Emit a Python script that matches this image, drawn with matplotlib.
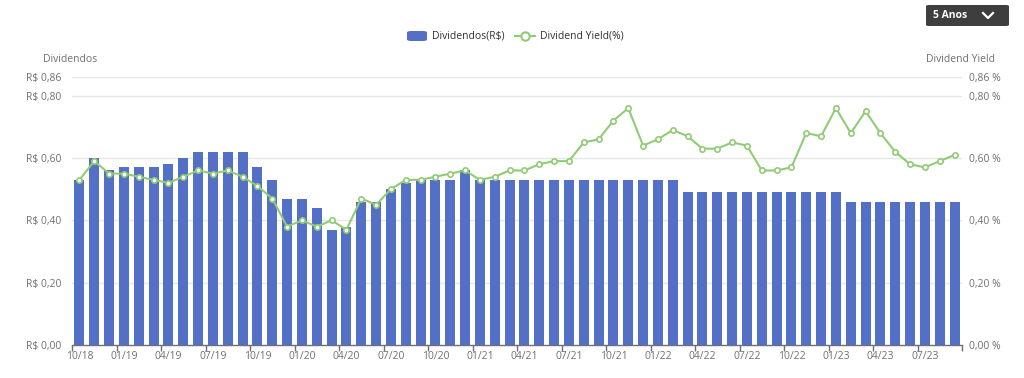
import matplotlib
matplotlib.use("Agg")
import matplotlib.pyplot as plt
from matplotlib.patches import FancyBboxPatch
from matplotlib.lines import Line2D
import numpy as np

months = [
    "10/18", "11/18", "12/18", "01/19", "02/19", "03/19", "04/19", "05/19", "06/19", "07/19",
    "08/19", "09/19", "10/19", "11/19", "12/19", "01/20", "02/20", "03/20", "04/20", "05/20",
    "06/20", "07/20", "08/20", "09/20", "10/20", "11/20", "12/20", "01/21", "02/21", "03/21",
    "04/21", "05/21", "06/21", "07/21", "08/21", "09/21", "10/21", "11/21", "12/21", "01/22",
    "02/22", "03/22", "04/22", "05/22", "06/22", "07/22", "08/22", "09/22", "10/22", "11/22",
    "12/22", "01/23", "02/23", "03/23", "04/23", "05/23", "06/23", "07/23", "08/23", "09/23",
]

dividends = [
    0.53, 0.60, 0.56, 0.57, 0.57, 0.57, 0.58, 0.60, 0.62, 0.62,
    0.62, 0.62, 0.57, 0.53, 0.47, 0.47, 0.44, 0.37, 0.38, 0.46,
    0.46, 0.50, 0.52, 0.53, 0.53, 0.53, 0.56, 0.53, 0.53, 0.53,
    0.53, 0.53, 0.53, 0.53, 0.53, 0.53, 0.53, 0.53, 0.53, 0.53,
    0.53, 0.49, 0.49, 0.49, 0.49, 0.49, 0.49, 0.49, 0.49, 0.49,
    0.49, 0.49, 0.46, 0.46, 0.46, 0.46, 0.46, 0.46, 0.46, 0.46,
]

dividend_yield = [
    0.53, 0.59, 0.55, 0.55, 0.54, 0.53, 0.52, 0.54, 0.56, 0.55,
    0.56, 0.54, 0.51, 0.47, 0.38, 0.40, 0.38, 0.40, 0.37, 0.47,
    0.45, 0.50, 0.53, 0.53, 0.54, 0.55, 0.56, 0.53, 0.54, 0.56,
    0.56, 0.58, 0.59, 0.59, 0.65, 0.66, 0.72, 0.76, 0.64, 0.66,
    0.69, 0.67, 0.63, 0.63, 0.65, 0.64, 0.56, 0.56, 0.57, 0.68,
    0.67, 0.76, 0.68, 0.75, 0.68, 0.62, 0.58, 0.57, 0.59, 0.61,
]

y_ticks = [0.0, 0.20, 0.40, 0.60, 0.80, 0.86]
y_max = 0.86

BAR_COLOR = "#5470C6"
LINE_COLOR = "#91CC75"
TEXT_COLOR = "#6E7079"
GRID_COLOR = "#E6E6E6"

plt.rcParams["font.family"] = ["Open Sans", "DejaVu Sans"]

fig = plt.figure(figsize=(10.24, 3.78), dpi=100)
fig.patch.set_facecolor("white")
ax = fig.add_axes([72 / 1024, 1 - 345 / 378, 890 / 1024, (345 - 77) / 378])

x = np.arange(len(months))
ax.bar(x, dividends, width=0.68, color=BAR_COLOR, zorder=2)
ax.set_xlim(-0.5, len(months) - 0.5)
ax.set_ylim(0, y_max)

for t in y_ticks[1:]:
    ax.axhline(t, color=GRID_COLOR, lw=1, zorder=0)

ax.set_yticks(y_ticks)
ax.set_yticklabels(["R$ " + f"{t:.2f}".replace(".", ",") for t in y_ticks],
                   fontsize=7.5, color=TEXT_COLOR)
ax.tick_params(axis="y", length=0, pad=8)

label_idx = x[::3]
ax.set_xticks(label_idx)
ax.set_xticklabels([months[i] for i in label_idx], fontsize=7.5, color=TEXT_COLOR)
ax.set_xticks(list(label_idx - 0.5) + [len(months) - 0.5], minor=True)
ax.tick_params(axis="x", which="major", length=0, pad=4)
ax.tick_params(axis="x", which="minor", length=4, color=TEXT_COLOR, width=1)

for s in ["top", "right", "left"]:
    ax.spines[s].set_visible(False)
ax.spines["bottom"].set_color(TEXT_COLOR)
ax.spines["bottom"].set_linewidth(1)

ax2 = ax.twinx()
ax2.plot(x, dividend_yield, color=LINE_COLOR, lw=1.5, marker="o", markersize=3.8,
         markerfacecolor="white", markeredgecolor=LINE_COLOR, markeredgewidth=1.2, zorder=3)
ax2.set_ylim(0, y_max)
ax2.set_yticks(y_ticks)
ax2.set_yticklabels([f"{t:.2f}".replace(".", ",") + " %" for t in y_ticks],
                    fontsize=7.5, color=TEXT_COLOR)
ax2.tick_params(axis="y", length=0, pad=5)
for s in ["top", "right", "left", "bottom"]:
    ax2.spines[s].set_visible(False)

# axis names
fig.text(43 / 1024, 1 - 59 / 378, "Dividendos", fontsize=7.5, color=TEXT_COLOR, va="center", ha="left")
fig.text(995 / 1024, 1 - 59 / 378, "Dividend Yield", fontsize=7.5, color=TEXT_COLOR, va="center", ha="right")

# legend
ly = 1 - 36 / 378
fig.patches.append(FancyBboxPatch((407 / 1024, 1 - 41 / 378), 20 / 1024, 10 / 378,
                                  boxstyle="round,pad=0,rounding_size=0.004",
                                  transform=fig.transFigure, facecolor=BAR_COLOR, edgecolor="none"))
fig.text(432 / 1024, ly, "Dividendos(R$)", fontsize=7.5, color="#333333", va="center", ha="left")
fig.lines.append(Line2D([515 / 1024, 535 / 1024], [ly, ly], transform=fig.transFigure,
                        color=LINE_COLOR, lw=1.5))
fig.lines.append(Line2D([525 / 1024], [ly], transform=fig.transFigure, color=LINE_COLOR,
                        marker="o", markersize=6, markerfacecolor="white",
                        markeredgecolor=LINE_COLOR, markeredgewidth=1.5))
fig.text(540 / 1024, ly, "Dividend Yield(%)", fontsize=7.5, color="#333333", va="center", ha="left")

# "5 Anos" button
fig.patches.append(FancyBboxPatch((926 / 1024, 1 - 26 / 378), 83 / 1024, 21 / 378,
                                  boxstyle="round,pad=0,rounding_size=0.003",
                                  transform=fig.transFigure, facecolor="#3E3E3E", edgecolor="none"))
fig.text(933 / 1024, 1 - 15.5 / 378, "5 Anos", fontsize=7.5, color="white", fontweight="bold",
         va="center", ha="left")
fig.lines.append(Line2D([983 / 1024, 988 / 1024, 993 / 1024],
                        [1 - 13 / 378, 1 - 18 / 378, 1 - 13 / 378],
                        transform=fig.transFigure, color="white", lw=1.6))

fig.savefig("out.png", dpi=100, facecolor="white")
